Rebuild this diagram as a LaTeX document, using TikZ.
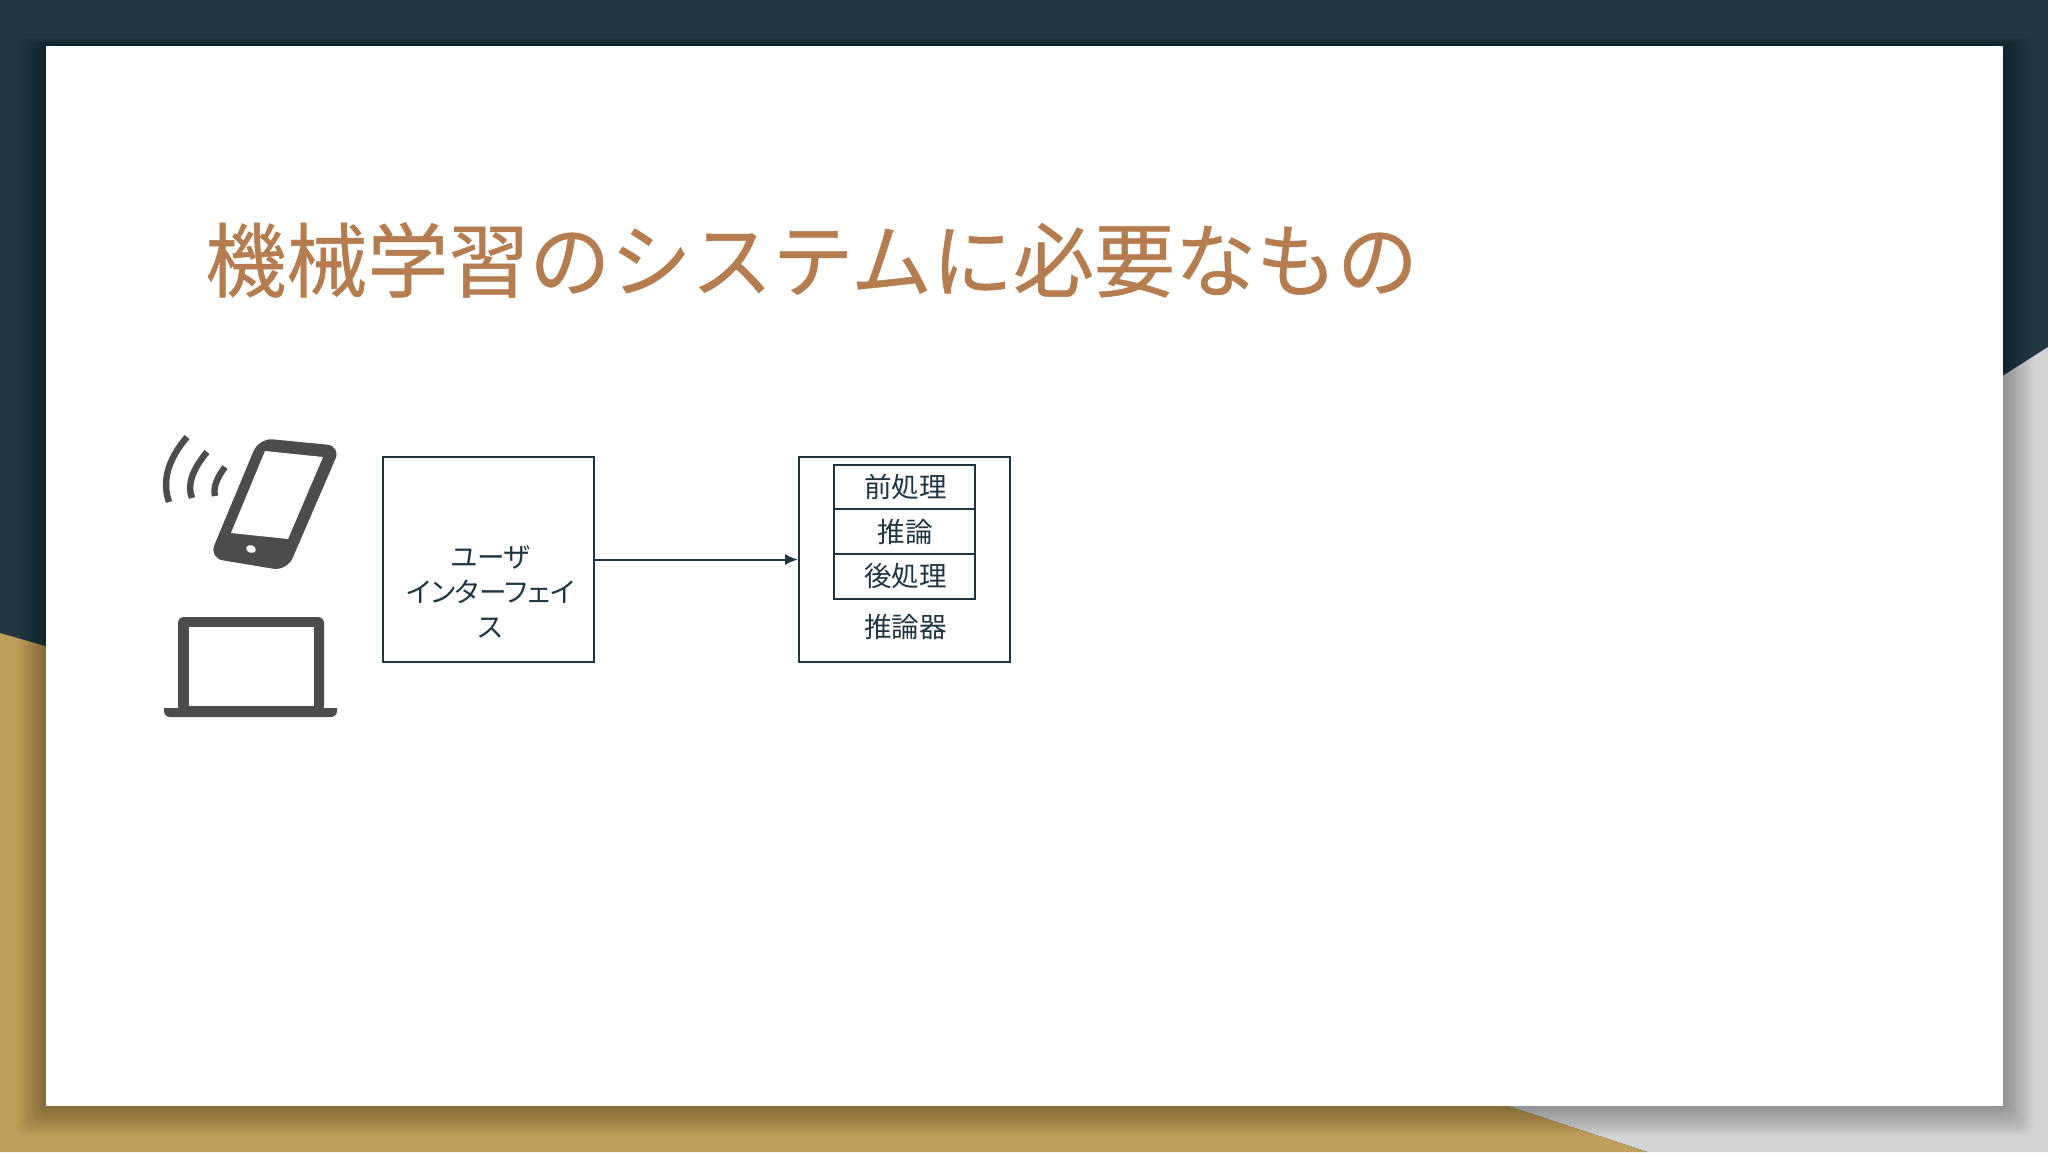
\documentclass[tikz,border=0pt]{standalone}
\usepackage{fontspec}
\setmainfont{Noto Sans CJK JP}[RawFeature=+palt]
\newfontfamily\titlefont{Noto Sans CJK JP}[FakeBold=0.6]
\usetikzlibrary{arrows.meta}
\definecolor{slatedark}{HTML}{243843}
\definecolor{boxline}{HTML}{1F3541}
\definecolor{goldband}{HTML}{BFA05B}
\definecolor{greyband}{HTML}{D4D3D6}
\definecolor{titlebrown}{HTML}{B57D4F}
\definecolor{icongrey}{HTML}{4D4B4C}
\tikzset{
  framebox/.style={draw=boxline,line width=1pt,minimum width=105.5pt,minimum height=102.5pt,inner sep=0pt},
  cellbox/.style={draw=boxline,line width=1pt,minimum width=70.5pt,minimum height=22.3pt,inner sep=0pt},
  boxlabel/.style={text=boxline,font=\fontsize{13.8pt}{17.3pt}\selectfont,align=center,inner sep=0pt},
  wave/.style={draw=icongrey,line width=3.2pt}
}
\begin{document}
\begin{tikzpicture}[x={(0.5pt,0pt)},y={(0pt,-0.5pt)}]
\useasboundingbox (0,0) rectangle (2048,1152);
% background bands
\fill[slatedark] (0,0) rectangle (2048,1152);
\fill[greyband] (2048,347) -- (1400,760) -- (1508,1106) -- (1648,1152) -- (2048,1152) -- cycle;
\fill[goldband] (0,633) -- (45,646) -- (1508,1106) -- (1648,1152) -- (0,1152) -- cycle;
% slide shadow
\foreach \i in {1,...,20}
  \fill[black,opacity=0.014,rounded corners=4pt] ({46-1.5*\i},{46-0.4*\i}) rectangle ({2003+1.5*\i},{1106+1.5*\i});
\fill[white] (46,46) rectangle (2003,1106);
% title
\node[text=titlebrown,font=\titlefont\fontsize{40.5pt}{40.5pt}\selectfont,anchor=west,inner sep=0pt] (title) at (205,260) {機械学習のシステムに必要なもの};
% phone
\fill[icongrey,rounded corners=7pt] (259,438) -- (341,446) -- (287,571) -- (209,558) -- cycle;
\fill[white] (265,451) -- (323,457) -- (288,539) -- (231,533) -- cycle;
\fill[white,rotate around={-20:(251,549)}] (251,549) ellipse (5 and 3.8);
% waves
\draw[wave] (187,437) .. controls (168,459.5) and (161.7,480.8) .. (169,502);
\draw[wave] (207,452) .. controls (192,470) and (187,485) .. (192,498);
\draw[wave] (225,467) .. controls (216.3,478.7) and (213,488.3) .. (215,496);
% laptop
\fill[icongrey,rounded corners=3pt] (178,617) rectangle (324,712);
\fill[white] (189,627) rectangle (314,706);
\fill[icongrey] (164,708) -- (337,708) [rounded corners=3pt] -- (337,717) -- (164,717) [sharp corners] -- cycle;
% user interface
\node[framebox] (ui) at (488.5,559.5) {};
\node[boxlabel] (uilabel) at (490.5,592) {ユーザ\\インターフェイ\\ス};
% inference
\node[framebox] (infer) at (904.5,559.5) {};
\node[cellbox] (pre) at (904.5,487) {};
\node[cellbox] (run) at (904.5,531.5) {};
\node[cellbox] (post) at (904.5,576.5) {};
\node[boxlabel] (prelabel) at (905.5,487) {前処理};
\node[boxlabel] (runlabel) at (905.5,532) {推論};
\node[boxlabel] (postlabel) at (905.5,576.5) {後処理};
\node[boxlabel] (inferlabel) at (905.5,626.5) {推論器};
\draw[boxline,line width=1pt,-{Latex[length=6.5pt,width=5.5pt]}] (ui) -- (infer);
\end{tikzpicture}
\end{document}
